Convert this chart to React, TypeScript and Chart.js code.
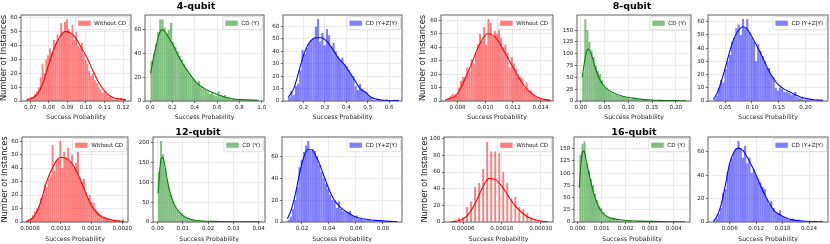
import React, { useEffect, useRef } from "react";
import { Chart, registerables } from "chart.js";

Chart.register(...registerables);

// ---------------- DATA ----------------
const FONT = '"DejaVu Sans", sans-serif';

// 4-qubit
const w4Counts = [1, 2, 3, 3, 5, 7, 10, 17, 27, 20, 30, 33, 38, 35, 44, 42, 48, 45, 56, 50, 57, 59, 52, 48, 55, 44, 50, 40, 38, 42, 34, 30, 27, 22, 18, 20, 15, 13, 10, 8, 6, 7, 5, 3, 3, 2, 1, 1, 2, 1, 2, 1, 1];
const w4Range = [0.068, 0.1215];
const w4KdeX = [0.068, 0.071, 0.0739, 0.0769, 0.0799, 0.0829, 0.0858, 0.0888, 0.0918, 0.0947, 0.0977, 0.1007, 0.1037, 0.1066, 0.1096, 0.1126, 0.1156, 0.1185, 0.1215];
const w4KdeY = [1, 2, 5, 13, 26, 38, 46, 50, 49, 45, 38, 31, 22, 14, 8, 4, 2, 1.5, 1];
const w4XTicks = [0.07, 0.08, 0.09, 0.1, 0.11, 0.12];
const w4YTicks = [0, 10, 20, 30, 40, 50, 60];

const y4Counts = [34, 40, 48, 58, 69, 69, 62, 57, 60, 66, 50, 46, 42, 38, 35, 31, 27, 24, 22, 19, 17, 15, 17, 12, 10, 9, 8, 6, 7, 5, 4, 8, 5, 4, 5, 3, 2, 1, 2, 1, 2, 2, 1, 1, 1, 1, 1, 1, 1, 1];
const y4Range = [0.005, 0.97];
const y4KdeX = [0.005, 0.03, 0.056, 0.08, 0.107, 0.13, 0.157, 0.208, 0.259, 0.31, 0.361, 0.411, 0.462, 0.513, 0.564, 0.615, 0.665, 0.716, 0.767, 0.818, 0.868, 0.919, 0.97];
const y4KdeY = [23, 36, 47, 56, 60, 59, 55, 47, 37, 29, 22, 16, 12, 9, 7, 5, 3.5, 2.2, 1.5, 1.2, 1, 0.8, 0.6];
const y4XTicks = [0, 0.2, 0.4, 0.6, 0.8, 1.0];
const y4YTicks = [0, 20, 40, 60];

const yz4Counts = [3, 8, 5, 12, 14, 25, 41, 38, 43, 46, 49, 50, 60, 66, 48, 55, 45, 58, 53, 44, 47, 40, 36, 33, 35, 30, 28, 25, 22, 20, 12, 9, 14, 10, 8, 7, 4, 3, 1, 1, 1, 0, 1, 0, 1, 0, 0, 0, 1, 1];
const yz4Range = [0.128, 0.645];
const yz4KdeX = [0.128, 0.154, 0.18, 0.206, 0.231, 0.257, 0.283, 0.309, 0.335, 0.361, 0.387, 0.412, 0.438, 0.464, 0.49, 0.516, 0.541, 0.567, 0.593, 0.619, 0.645];
const yz4KdeY = [3, 10, 25, 40, 48, 51, 51, 48, 42, 35, 30, 24, 17, 10, 7, 3, 1.5, 0.8, 0.5, 0.3, 0.3];
const yz4XTicks = [0.2, 0.3, 0.4, 0.5, 0.6];
const yz4YTicks = [0, 10, 20, 30, 40, 50, 60];

// 8-qubit
const w8Counts = [1, 2, 4, 5, 5, 4, 10, 15, 18, 18, 25, 22, 31, 28, 36, 42, 50, 45, 55, 42, 61, 58, 48, 52, 50, 58, 47, 40, 42, 36, 25, 33, 28, 24, 20, 18, 17, 10, 14, 8, 8, 5, 4, 3, 2, 2, 1, 1, 1, 1];
const w8Range = [0.0071, 0.01474];
const w8KdeX = [0.00711, 0.00749, 0.00787, 0.00825, 0.00864, 0.00902, 0.0094, 0.00978, 0.01016, 0.01054, 0.01092, 0.01131, 0.01169, 0.01207, 0.01245, 0.01283, 0.01321, 0.0136, 0.01398, 0.01436, 0.01474];
const w8KdeY = [0.7, 2, 4, 10, 19, 28, 38, 46, 50, 49, 45, 38, 31, 24, 17, 11, 7, 4, 2, 1, 0.5];
const w8XTicks = [0.008, 0.01, 0.012, 0.014];
const w8YTicks = [0, 10, 20, 30, 40, 50, 60];

const y8Counts = [60, 173, 150, 125, 107, 93, 75, 64, 57, 44, 32, 27, 23, 19, 16, 14, 13, 11, 10, 9, 8, 7, 6, 5, 6, 7, 4, 3, 3, 2, 2, 2, 1, 3, 1, 1, 1, 1, 0, 1, 1, 0, 1, 0, 1, 0, 0, 1, 1, 0];
const y8Range = [0.003, 0.222];
const y8KdeX = [0.003, 0.007, 0.011, 0.015, 0.019, 0.024, 0.03, 0.037, 0.045, 0.055, 0.065, 0.08, 0.095, 0.11, 0.13, 0.15, 0.175, 0.2, 0.222];
const y8KdeY = [50, 78, 100, 110, 106, 93, 72, 52, 37, 26, 19, 12.5, 8.5, 6, 3.5, 2, 1.2, 0.7, 0.5];
const y8XTicks = [0, 0.05, 0.1, 0.15, 0.2];
const y8YTicks = [0, 25, 50, 75, 100, 125, 150];

const yz8Counts = [2, 4, 10, 16, 14, 24, 30, 35, 45, 48, 55, 58, 50, 62, 55, 62, 52, 48, 45, 30, 43, 38, 34, 30, 25, 25, 20, 18, 10, 8, 10, 9, 7, 7, 6, 5, 5, 7, 3, 2, 2, 1, 1, 1, 1, 1, 0, 1, 0, 1];
const yz8Range = [0.028, 0.232];
const yz8KdeX = [0.028, 0.035, 0.042, 0.05, 0.058, 0.066, 0.074, 0.082, 0.09, 0.098, 0.106, 0.114, 0.122, 0.13, 0.14, 0.15, 0.16, 0.17, 0.18, 0.19, 0.2, 0.215, 0.232];
const yz8KdeY = [1.5, 6, 14, 25, 37, 47, 53, 56, 55, 50, 44, 38, 31, 24, 17, 12, 9, 7, 5, 3, 2, 1, 0.5];
const yz8XTicks = [0.05, 0.1, 0.15, 0.2];
const yz8YTicks = [0, 10, 20, 30, 40, 50, 60];

// 12-qubit
const w12Counts = [1, 2, 3, 5, 8, 10, 12, 18, 20, 28, 26, 32, 35, 57, 38, 45, 47, 60, 40, 52, 48, 55, 45, 50, 40, 44, 52, 33, 30, 32, 22, 18, 20, 15, 14, 10, 8, 6, 5, 4, 3, 2, 2, 1, 1, 1, 0, 1, 0, 2];
const w12Range = [0.00075, 0.00202];
const w12KdeX = [0.00075, 0.0008, 0.00085, 0.0009, 0.00095, 0.001, 0.00105, 0.0011, 0.00115, 0.0012, 0.00125, 0.0013, 0.00135, 0.0014, 0.00145, 0.0015, 0.00155, 0.0016, 0.00165, 0.0017, 0.0018, 0.0019, 0.00202];
const w12KdeY = [0.3, 1.5, 4, 9, 17, 27, 35, 41, 46, 48, 47.5, 46, 43, 38, 32, 25, 18, 12, 8, 5, 2.5, 1, 0.4];
const w12XTicks = [0.0008, 0.0012, 0.0016, 0.002];
const w12YTicks = [0, 10, 20, 30, 40, 50, 60];

const y12Counts = [125, 203, 170, 135, 108, 85, 68, 52, 40, 30, 25, 22, 17, 12, 10, 8, 6, 5, 4, 3, 3, 2, 2, 1, 1, 1, 1, 1, 0, 1, 0, 0, 1, 0, 0, 0, 1, 0, 0, 0, 0, 0, 0, 0, 0, 0, 0, 0, 0, 1];
const y12Range = [0.0002, 0.0405];
const y12KdeX = [0.0002, 0.0008, 0.0014, 0.002, 0.0028, 0.0036, 0.0045, 0.0055, 0.0065, 0.0075, 0.0085, 0.0095, 0.011, 0.013, 0.015, 0.018, 0.022, 0.026, 0.03, 0.035, 0.0405];
const y12KdeY = [72, 125, 158, 162, 145, 115, 85, 62, 45, 34, 26, 19, 12, 7, 4.5, 2.5, 1.5, 1, 0.6, 0.4, 0.3];
const y12XTicks = [0, 0.01, 0.02, 0.03, 0.04];
const y12YTicks = [0, 50, 100, 150, 200];

const yz12Counts = [2, 5, 12, 20, 32, 50, 57, 64, 70, 74, 65, 67, 65, 60, 52, 46, 40, 35, 30, 25, 20, 19, 13, 19, 12, 10, 9, 9, 10, 6, 5, 6, 3, 3, 2, 2, 2, 2, 1, 2, 1, 1, 2, 1, 0, 1, 0, 1, 0, 1];
const yz12Range = [0.0092, 0.0905];
const yz12KdeX = [0.0092, 0.012, 0.015, 0.018, 0.021, 0.024, 0.027, 0.03, 0.033, 0.036, 0.04, 0.044, 0.048, 0.052, 0.056, 0.06, 0.065, 0.07, 0.075, 0.08, 0.085, 0.0905];
const yz12KdeY = [3, 11, 25, 43, 58, 66, 66, 61, 53, 43, 30, 20, 14, 10, 7, 4.5, 3, 2, 1.5, 1, 0.6, 0.3];
const yz12XTicks = [0.02, 0.04, 0.06, 0.08];
const yz12YTicks = [0, 20, 40, 60];

// 16-qubit
const w16Counts = [1, 2, 5, 6, 18, 25, 42, 47, 64, 96, 85, 85, 83, 60, 47, 28, 30, 18, 16, 11, 5, 3, 1, 1, 0];
const w16Range = [0.0000173, 0.0003273];
const w16KdeX = [0.0000235, 0.00004, 0.00006, 0.00008, 0.0001, 0.00012, 0.00014, 0.00016, 0.00018, 0.0002, 0.00022, 0.00024, 0.00026, 0.00028, 0.0003, 0.000321];
const w16KdeY = [0.3, 1.2, 3.5, 11, 24, 41, 52, 51, 43, 31, 20, 12, 6, 3, 1.2, 0.4];
const w16XTicks = [0.00006, 0.00018, 0.0003];
const w16YTicks = [0, 20, 40, 60, 80, 100];

const y16Counts = [137, 160, 165, 120, 105, 88, 75, 58, 45, 32, 28, 20, 15, 12, 9, 7, 6, 5, 4, 3, 3, 2, 2, 3, 2, 1, 1, 1, 1, 1, 0, 1, 0, 1, 3, 1, 0, 1, 0, 0, 1, 0, 0, 1, 0, 0, 1, 0, 0, 1];
const y16Range = [0.00007, 0.00445];
const y16KdeX = [0.00007, 0.00013, 0.0002, 0.00027, 0.00035, 0.00045, 0.00055, 0.00065, 0.00075, 0.00085, 0.001, 0.0012, 0.0014, 0.0017, 0.002, 0.0025, 0.003, 0.0035, 0.004, 0.00445];
const y16KdeY = [70, 115, 143, 145, 128, 104, 82, 62, 46, 34, 21, 12, 8, 5, 3, 1.8, 1.2, 0.8, 0.5, 0.4];
const y16XTicks = [0, 0.001, 0.002, 0.003, 0.004];
const y16YTicks = [0, 25, 50, 75, 100, 125, 150];

const yz16Counts = [1, 3, 7, 12, 25, 28, 43, 50, 55, 60, 63, 69, 62, 55, 65, 50, 55, 42, 45, 40, 37, 34, 30, 28, 20, 15, 18, 12, 8, 7, 10, 5, 4, 3, 2, 2, 3, 1, 1, 1, 1, 1, 0, 1, 0, 0, 1, 0, 0, 1];
const yz16Range = [0.0023, 0.0271];
const yz16KdeX = [0.0023, 0.003, 0.004, 0.005, 0.006, 0.007, 0.008, 0.009, 0.01, 0.011, 0.012, 0.013, 0.014, 0.015, 0.016, 0.017, 0.018, 0.02, 0.022, 0.0245, 0.0271];
const yz16KdeY = [0.5, 4, 14, 31, 50, 60, 63, 61, 55, 48, 40, 31, 23, 16, 10, 7, 5, 2, 1, 0.4, 0.2];
const yz16XTicks = [0.006, 0.012, 0.018, 0.024];
const yz16YTicks = [0, 20, 40, 60];

const groupTitles = ["4-qubit", "8-qubit", "12-qubit", "16-qubit"];
const legendLabels = ["Without CD", "CD (Y)", "CD (Y+Z|Y)"];
const xTitle = "Success Probability";
const yTitle = "Number of Instances";

// ---------------- STYLE / LAYOUT ----------------
const COLORS: Record<string, { fill: string; line: string }> = {
  red: { fill: "rgba(255,0,0,0.5)", line: "rgb(255,0,0)" },
  green: { fill: "rgba(0,128,0,0.5)", line: "rgb(0,128,0)" },
  blue: { fill: "rgba(0,0,255,0.5)", line: "rgb(0,0,255)" },
};

const TICK_FONT = 5.6;
const XT_FONT = 6.2;
const YT_FONT = 8.3;
const LEG_FONT = 5.6;
const PAD_TOP = 5;
const PAD_RIGHT = 6;

type Spec = {
  counts: number[];
  range: number[];
  kdeX: number[];
  kdeY: number[];
  xTicks: number[];
  yTicks: number[];
  xLim: [number, number];
  yMax: number;
  xDec: number;
  label: string;
  color: string;
  yTitle: boolean;
  frame: [number, number, number, number];
  wy: number;
  hx: number;
  barPct?: number;
};

const framePlugin = {
  id: "frameBox",
  afterDatasetsDraw(chart: any) {
    const { ctx, chartArea: a } = chart;
    ctx.save();
    ctx.strokeStyle = "#3a3a3a";
    ctx.lineWidth = 0.8;
    ctx.strokeRect(a.left, a.top, a.right - a.left, a.bottom - a.top);
    ctx.restore();
  },
};

const legendPlugin = {
  id: "boxLegend",
  afterDraw(chart: any, _args: any, opts: any) {
    const { ctx, chartArea: a } = chart;
    ctx.save();
    ctx.font = `${LEG_FONT}px ${FONT}`;
    const tw = ctx.measureText(opts.text).width;
    const pad = 2.4;
    const pw = 12.5;
    const ph = 5.2;
    const gap = 3.6;
    const bw = pad + pw + gap + tw + pad + 1;
    const bh = 13;
    const x = a.right - 1.5 - bw;
    const y = a.top + 1.7;
    ctx.beginPath();
    const r = 1.5;
    ctx.moveTo(x + r, y);
    ctx.lineTo(x + bw - r, y);
    ctx.quadraticCurveTo(x + bw, y, x + bw, y + r);
    ctx.lineTo(x + bw, y + bh - r);
    ctx.quadraticCurveTo(x + bw, y + bh, x + bw - r, y + bh);
    ctx.lineTo(x + r, y + bh);
    ctx.quadraticCurveTo(x, y + bh, x, y + bh - r);
    ctx.lineTo(x, y + r);
    ctx.quadraticCurveTo(x, y, x + r, y);
    ctx.closePath();
    ctx.fillStyle = "rgba(255,255,255,0.8)";
    ctx.fill();
    ctx.strokeStyle = "#d0d0d0";
    ctx.lineWidth = 0.7;
    ctx.stroke();
    ctx.fillStyle = opts.color;
    ctx.fillRect(x + pad, y + (bh - ph) / 2, pw, ph);
    ctx.fillStyle = "#111";
    ctx.textBaseline = "middle";
    ctx.textAlign = "left";
    ctx.fillText(opts.text, x + pad + pw + gap, y + bh / 2 + 0.3);
    ctx.restore();
  },
};

function Panel({ s }: { s: Spec }) {
  const ref = useRef<HTMLCanvasElement | null>(null);
  const [L, T, R, B] = s.frame;
  const cw = s.wy + (R - L) + PAD_RIGHT;
  const ch = PAD_TOP + (B - T) + s.hx;

  useEffect(() => {
    if (!ref.current) return;
    const n = s.counts.length;
    const bw = (s.range[1] - s.range[0]) / n;
    const bars = s.counts.map((c, i) => ({ x: s.range[0] + (i + 0.5) * bw, y: c }));
    const kde = s.kdeX.map((x, i) => ({ x, y: s.kdeY[i] }));
    const col = COLORS[s.color];
    const gridCommon = {
      color: "rgba(0,0,0,0.11)",
      lineWidth: 0.7,
      drawTicks: true,
      tickLength: 2.2,
      tickColor: "#3a3a3a",
      tickWidth: 0.7,
      offset: false,
    };
    const chart = new Chart(ref.current, {
      type: "bar",
      data: {
        datasets: [
          {
            type: "line",
            data: kde,
            borderColor: col.line,
            borderWidth: 1.1,
            pointRadius: 0,
            fill: false,
            cubicInterpolationMode: "monotone",
            order: 0,
          } as any,
          {
            type: "bar",
            data: bars,
            backgroundColor: col.fill,
            borderColor: "rgba(255,255,255,0.5)",
            borderWidth: { left: 0, right: 0.25, top: 0, bottom: 0 },
            borderSkipped: false,
            barPercentage: s.barPct ?? 1,
            categoryPercentage: 1,
            order: 1,
          } as any,
        ],
      },
      options: {
        responsive: false,
        animation: false,
        events: [],
        layout: { padding: { top: PAD_TOP, right: PAD_RIGHT, left: 0, bottom: 0 } },
        plugins: {
          legend: { display: false },
          tooltip: { enabled: false },
          boxLegend: { text: s.label, color: col.fill },
        } as any,
        scales: {
          x: {
            type: "linear",
            min: s.xLim[0],
            max: s.xLim[1],
            offset: false,
            afterBuildTicks: (sc: any) => {
              sc.ticks = s.xTicks.map((v) => ({ value: v }));
            },
            afterFit: (sc: any) => {
              sc.height = s.hx;
              sc.paddingLeft = 0;
              sc.paddingRight = 0;
            },
            ticks: {
              autoSkip: false,
              maxRotation: 0,
              padding: 1,
              color: "#1a1a1a",
              font: { family: FONT, size: TICK_FONT },
              callback: (v: any) => Number(v).toFixed(s.xDec),
            },
            grid: gridCommon,
            border: { display: false },
            title: {
              display: true,
              text: xTitle,
              color: "#1a1a1a",
              padding: 0,
              font: { family: FONT, size: XT_FONT, lineHeight: 1 },
            },
          },
          y: {
            type: "linear",
            min: 0,
            max: s.yMax,
            afterBuildTicks: (sc: any) => {
              sc.ticks = s.yTicks.map((v) => ({ value: v }));
            },
            afterFit: (sc: any) => {
              sc.width = s.wy;
              sc.paddingTop = 0;
              sc.paddingBottom = 0;
            },
            ticks: {
              padding: 1.4,
              color: "#1a1a1a",
              font: { family: FONT, size: TICK_FONT },
              callback: (v: any) => String(Math.round(Number(v))),
            },
            grid: gridCommon,
            border: { display: false },
            title: {
              display: s.yTitle,
              text: yTitle,
              color: "#1a1a1a",
              padding: 0,
              font: { family: FONT, size: YT_FONT, lineHeight: 1 },
            },
          },
        },
      } as any,
      plugins: [framePlugin, legendPlugin],
    });
    return () => chart.destroy();
  }, []);

  return (
    <canvas
      ref={ref}
      width={cw}
      height={ch}
      style={{ position: "absolute", left: L - s.wy, top: T - PAD_TOP, width: cw, height: ch }}
    />
  );
}

const specs: Spec[] = [
  { counts: w4Counts, range: w4Range, kdeX: w4KdeX, kdeY: w4KdeY, xTicks: w4XTicks, yTicks: w4YTicks, xLim: [0.065, 0.1243], yMax: 62, xDec: 2, label: legendLabels[0], color: "red", yTitle: true, frame: [21, 15, 131, 101], wy: 21, hx: 19 },
  { counts: y4Counts, range: y4Range, kdeX: y4KdeX, kdeY: y4KdeY, xTicks: y4XTicks, yTicks: y4YTicks, xLim: [-0.045, 1.02], yMax: 72.5, xDec: 1, label: legendLabels[1], color: "green", yTitle: false, frame: [145, 15, 264, 101], wy: 18, hx: 19 },
  { counts: yz4Counts, range: yz4Range, kdeX: yz4KdeX, kdeY: yz4KdeY, xTicks: yz4XTicks, yTicks: yz4YTicks, xLim: [0.104, 0.66], yMax: 69.3, xDec: 1, label: legendLabels[2], color: "blue", yTitle: false, frame: [283, 15, 402, 101], wy: 18, hx: 19 },
  { counts: w8Counts, range: w8Range, kdeX: w8KdeX, kdeY: w8KdeY, xTicks: w8XTicks, yTicks: w8YTicks, xLim: [0.0068, 0.0149], yMax: 64, xDec: 3, label: legendLabels[0], color: "red", yTitle: true, frame: [441, 15, 553, 101], wy: 22, hx: 19 },
  { counts: y8Counts, range: y8Range, kdeX: y8KdeX, kdeY: y8KdeY, xTicks: y8XTicks, yTicks: y8YTicks, xLim: [-0.008, 0.232], yMax: 182, xDec: 2, label: legendLabels[1], color: "green", yTitle: false, frame: [577, 15, 691, 101], wy: 18, hx: 19 },
  { counts: yz8Counts, range: yz8Range, kdeX: yz8KdeX, kdeY: yz8KdeY, xTicks: yz8XTicks, yTicks: yz8YTicks, xLim: [0.0178, 0.242], yMax: 65.1, xDec: 2, label: legendLabels[2], color: "blue", yTitle: false, frame: [708, 15, 828, 101], wy: 18, hx: 19 },
  { counts: w12Counts, range: w12Range, kdeX: w12KdeX, kdeY: w12KdeY, xTicks: w12XTicks, yTicks: w12YTicks, xLim: [0.000696, 0.002073], yMax: 63, xDec: 4, label: legendLabels[0], color: "red", yTitle: true, frame: [22, 137, 128, 222], wy: 21, hx: 20 },
  { counts: y12Counts, range: y12Range, kdeX: y12KdeX, kdeY: y12KdeY, xTicks: y12XTicks, yTicks: y12YTicks, xLim: [-0.0018, 0.0425], yMax: 213, xDec: 2, label: legendLabels[1], color: "green", yTitle: false, frame: [153, 137, 265, 222], wy: 18, hx: 20 },
  { counts: yz12Counts, range: yz12Range, kdeX: yz12KdeX, kdeY: yz12KdeY, xTicks: yz12XTicks, yTicks: yz12YTicks, xLim: [0.0052, 0.0941], yMax: 77.7, xDec: 2, label: legendLabels[2], color: "blue", yTitle: false, frame: [282, 137, 402, 222], wy: 18, hx: 20 },
  { counts: w16Counts, range: w16Range, kdeX: w16KdeX, kdeY: w16KdeY, xTicks: w16XTicks, yTicks: w16YTicks, xLim: [0.0000013, 0.000338], yMax: 102, xDec: 5, label: legendLabels[0], color: "red", yTitle: true, frame: [444, 137, 553, 222], wy: 23, hx: 20, barPct: 0.6 },
  { counts: y16Counts, range: y16Range, kdeX: y16KdeX, kdeY: y16KdeY, xTicks: y16XTicks, yTicks: y16YTicks, xLim: [-0.00015, 0.00467], yMax: 174, xDec: 3, label: legendLabels[1], color: "green", yTitle: false, frame: [574, 137, 690, 222], wy: 18, hx: 20 },
  { counts: yz16Counts, range: yz16Range, kdeX: yz16KdeX, kdeY: yz16KdeY, xTicks: yz16XTicks, yTicks: yz16YTicks, xLim: [0.00108, 0.0283], yMax: 72.5, xDec: 3, label: legendLabels[2], color: "blue", yTitle: false, frame: [708, 137, 828, 222], wy: 18, hx: 20 },
];

const titlePos = [
  { cx: 196, top: 0.5 },
  { cx: 632, top: 0.5 },
  { cx: 198, top: 126.5 },
  { cx: 634, top: 126.5 },
];

export default function App() {
  return (
    <div
      style={{
        position: "fixed",
        left: 0,
        top: 0,
        width: 830,
        height: 244,
        overflow: "hidden",
        background: "#ffffff",
      }}
    >
      {specs.map((s, i) => (
        <Panel key={i} s={s} />
      ))}
      {groupTitles.map((t, i) => (
        <div
          key={t}
          style={{
            position: "absolute",
            left: titlePos[i].cx - 60,
            top: titlePos[i].top,
            width: 120,
            textAlign: "center",
            fontFamily: FONT,
            fontWeight: "bold",
            fontSize: 9.5,
            lineHeight: "9.5px",
            color: "#000",
            whiteSpace: "nowrap",
          }}
        >
          {t}
        </div>
      ))}
    </div>
  );
}
